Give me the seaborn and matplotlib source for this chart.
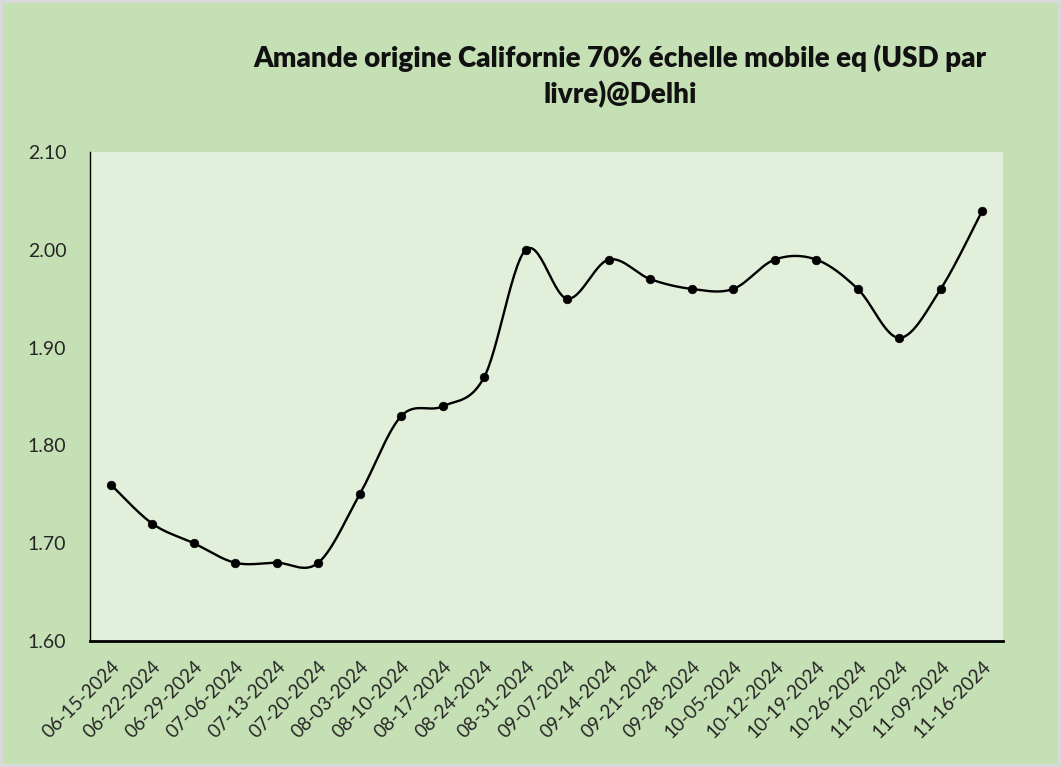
import numpy as np
import pandas as pd
import matplotlib
matplotlib.use("Agg")
import matplotlib.pyplot as plt
import seaborn as sns

dates = ["06-15-2024", "06-22-2024", "06-29-2024", "07-06-2024", "07-13-2024", "07-20-2024",
         "08-03-2024", "08-10-2024", "08-17-2024", "08-24-2024", "08-31-2024", "09-07-2024",
         "09-14-2024", "09-21-2024", "09-28-2024", "10-05-2024", "10-12-2024", "10-19-2024",
         "10-26-2024", "11-02-2024", "11-09-2024", "11-16-2024"]
prices = [1.76, 1.72, 1.70, 1.68, 1.68, 1.68, 1.75, 1.83, 1.84, 1.87, 2.00, 1.95,
          1.99, 1.97, 1.96, 1.96, 1.99, 1.99, 1.96, 1.91, 1.96, 2.04]
yticks = [1.60, 1.70, 1.80, 1.90, 2.00, 2.10]
title = "Amande origine Californie 70% échelle mobile eq (USD par\nlivre)@Delhi"

sns.set_theme(style="white")
plt.rcParams['font.family'] = ['Lato', 'DejaVu Sans']

df = pd.DataFrame({"x": np.arange(len(dates)), "price": prices})


def smooth(xs, ys, n=30):
    # Catmull-Rom / Bezier smoothing similar to Excel's smoothed line
    xs = np.asarray(xs, float); ys = np.asarray(ys, float)
    px = np.concatenate([[xs[0]], xs, [xs[-1]]])
    py = np.concatenate([[ys[0]], ys, [ys[-1]]])
    ox, oy = [], []
    for i in range(1, len(px) - 2):
        p0 = np.array([px[i-1], py[i-1]]); p1 = np.array([px[i], py[i]])
        p2 = np.array([px[i+1], py[i+1]]); p3 = np.array([px[i+2], py[i+2]])
        c1 = p1 + (p2 - p0) / 6.0
        c2 = p2 - (p3 - p1) / 6.0
        t = np.linspace(0, 1, n)[:, None]
        pts = ((1-t)**3)*p1 + 3*((1-t)**2)*t*c1 + 3*(1-t)*t**2*c2 + t**3*p2
        ox.extend(pts[:, 0]); oy.extend(pts[:, 1])
    return np.array(ox), np.array(oy)


fig = plt.figure(figsize=(10.61, 7.67), dpi=100)
fig.patch.set_facecolor("#c5e0b4")
fig.patch.set_edgecolor("#d9d9d9")
fig.patch.set_linewidth(3)
ax = fig.add_axes([90/1061, 1-641/767, 913/1061, (641-152)/767])
ax.set_facecolor("#e2efda")

sx, sy = smooth(df["x"], df["price"])
sns.lineplot(x=sx, y=sy, ax=ax, color="black", linewidth=1.7, sort=False, estimator=None)
sns.scatterplot(data=df, x="x", y="price", ax=ax, color="black", s=38, edgecolor="black", zorder=5)

ax.set_xlim(-0.5, len(dates) - 0.5)
ax.set_ylim(1.60, 2.10)
ax.set_yticks(yticks)
ax.set_yticklabels([f"{v:.2f}" for v in yticks], fontsize=14)
ax.set_xticks(df["x"])
ax.set_xticklabels(dates, rotation=45, ha="right", rotation_mode="anchor", fontsize=13.5)
ax.tick_params(axis="x", length=0, pad=12)
ax.tick_params(axis="y", length=0, pad=17)
ax.set_xlabel(""); ax.set_ylabel("")
for s in ["top", "right"]:
    ax.spines[s].set_visible(False)
ax.spines["left"].set_color("black"); ax.spines["left"].set_linewidth(1.0)
ax.spines["bottom"].set_color("black"); ax.spines["bottom"].set_linewidth(2.0)

fig.text(620/1061, 1-76/767, title, ha="center", va="center", fontsize=20,
         fontweight="heavy", color="#111111", linespacing=1.4)

fig.savefig("out.png", dpi=100, facecolor=fig.get_facecolor(), edgecolor=fig.get_edgecolor())
